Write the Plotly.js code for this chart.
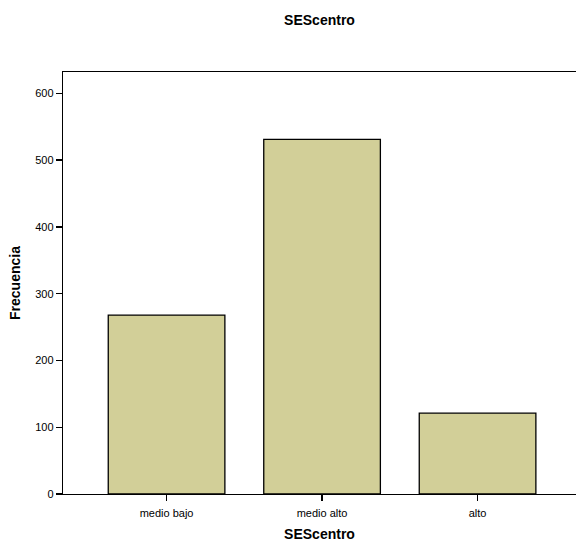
<!DOCTYPE html>
<html><head><meta charset="utf-8">
<script src="https://cdn.plot.ly/plotly-3.0.1.min.js"></script>
<style>html,body{margin:0;padding:0;background:#fff}</style>
</head><body><div id="chart" style="width:576px;height:542px"></div>
<script>
const categories = ["medio bajo", "medio alto", "alto"];
const frecuencia = [268, 531, 121];
const yTicks = [0, 100, 200, 300, 400, 500, 600];

const trace = {
  type: 'bar', x: categories, y: frecuencia, width: 0.75,
  marker: {color: '#d2cf98', line: {color: '#000', width: 1.3}},
  hoverinfo: 'x+y'
};
const layout = {
  width: 576, height: 542,
  margin: {l: 63, r: 0, t: 72, b: 48},
  paper_bgcolor: '#fff', plot_bgcolor: '#fff',
  font: {family: 'Liberation Sans, Arial, sans-serif', color: '#000'},
  title: {text: '<b>SEScentro</b>', font: {size: 14}, x: 0.5, xref: 'paper', y: 0.962, yanchor: 'middle'},
  xaxis: {
    type: 'category', range: [-0.666, 2.633],
    showline: true, linecolor: '#000', linewidth: 1.3, mirror: true,
    ticks: 'outside', ticklen: 6, tickwidth: 1.3, tickcolor: '#000',
    ticklabelstandoff: 2,
    tickfont: {size: 11}, showgrid: false, zeroline: false,
    automargin: false,
    title: {text: '<b>SEScentro</b>', font: {size: 14}, standoff: 14}
  },
  yaxis: {
    range: [0, 632], tickvals: yTicks,
    showline: true, linecolor: '#000', linewidth: 1.3,
    ticks: 'outside', ticklen: 6, tickwidth: 1.3, tickcolor: '#000',
    tickfont: {size: 11}, showgrid: false, zeroline: false,
    automargin: false,
    title: {text: '<b>Frecuencia</b>', font: {size: 14}, standoff: 11}
  },
  showlegend: false
};
Plotly.newPlot('chart', [trace], layout, {displayModeBar: false, staticPlot: true});
</script></body></html>
